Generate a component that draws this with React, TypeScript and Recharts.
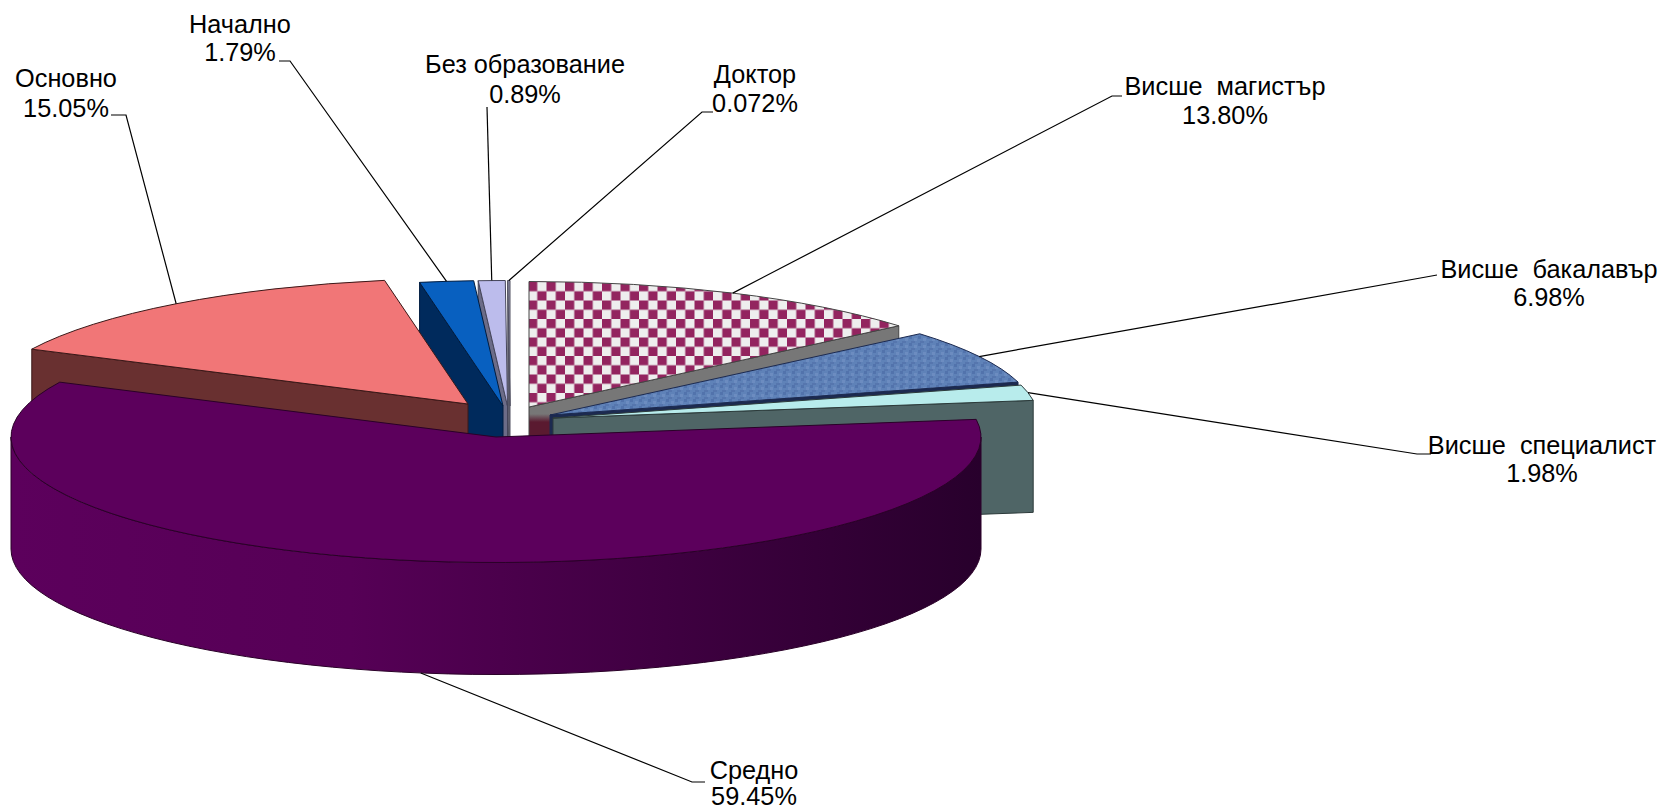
import { PieChart, Pie } from "recharts";

const categories = [
  "Основно",
  "Начално",
  "Без образование",
  "Доктор",
  "Висше  магистър",
  "Висше  бакалавър",
  "Висше  специалист",
  "Средно",
];
const shares = [15.05, 1.79, 0.89, 0.072, 13.8, 6.98, 1.98, 59.45];
const shareLabels = ["15.05%", "1.79%", "0.89%", "0.072%", "13.80%", "6.98%", "1.98%", "59.45%"];

const chartData = categories.map((name, i) => ({ name, value: shares[i], shareLabel: shareLabels[i] }));

// the pie is split at 12 o'clock so the slices can paint back to front:
// left part runs anticlockwise from the top, right part clockwise
const leftSlices = chartData.slice(0, 4).reverse();
const rightSlices = chartData.slice(4);
const sumOf = (rows: { value: number }[]) => rows.reduce((acc, r) => acc + r.value, 0);
const leftSpan = (sumOf(leftSlices) / sumOf(chartData)) * 360;

const RX = 485;
const RY = 125.5;
const DEPTH = 112;
const FONT = "'Liberation Sans', Arial, sans-serif";

// per slice look: explode offset from the pie centre, top fill, wall fill
const sliceStyle: Record<string, { dx: number; dy: number; top: string; wall: string; line: string }> = {
  "Основно": { dx: -28, dy: -33, top: "#f17677", wall: "#693030", line: "#3a1818" },
  "Начално": { dx: 7, dy: -31, top: "#0860c0", wall: "#002a5c", line: "#001c40" },
  "Без образование": { dx: 11.5, dy: -31, top: "#bcbcec", wall: "#6c6c88", line: "#45455a" },
  "Доктор": { dx: 14, dy: -31, top: "#9090a8", wall: "#606070", line: "#505060" },
  "Висше  магистър": { dx: 33, dy: -30, top: "url(#checks)", wall: "url(#greyWall)", line: "#444444" },
  "Висше  бакалавър": { dx: 54, dy: -22, top: "url(#weave)", wall: "#1c2a50", line: "#1c2a50" },
  "Висше  специалист": { dx: 57, dy: -19, top: "#b8ecec", wall: "#4f6566", line: "#2c3a3a" },
  "Средно": { dx: 0, dy: 0, top: "#5c005c", wall: "url(#mainWall)", line: "#2a0028" },
};

// label placement: centre x, baseline of both rows, leader elbow points
const labelLayout: Record<string, { x: number; y1: number; y2: number; elbow: number[][] }> = {
  "Основно": { x: 66, y1: 87, y2: 117, elbow: [[126, 115], [111, 115]] },
  "Начално": { x: 240, y1: 33, y2: 61, elbow: [[290, 61], [279, 61]] },
  "Без образование": { x: 525, y1: 73, y2: 103, elbow: [[487, 107]] },
  "Доктор": { x: 755, y1: 83, y2: 112, elbow: [[702, 112], [713, 112]] },
  "Висше  магистър": { x: 1225, y1: 95, y2: 124, elbow: [[1112, 96], [1122, 96]] },
  "Висше  бакалавър": { x: 1549, y1: 278, y2: 306, elbow: [[1426, 277], [1437, 275]] },
  "Висше  специалист": { x: 1542, y1: 454, y2: 482, elbow: [[1417, 454], [1431, 454]] },
  "Средно": { x: 754, y1: 779, y2: 805, elbow: [[692, 782], [705, 782]] },
};

const rad = (deg: number) => (deg * Math.PI) / 180;

function rimPoint(x0: number, y0: number, theta: number) {
  return { x: x0 + RX * Math.sin(rad(theta)), y: y0 - RY * Math.cos(rad(theta)) };
}

function Slice3D(props: any) {
  const { cx, cy, startAngle, endAngle, name } = props;
  const s = sliceStyle[name];
  const x0 = cx + s.dx;
  const y0 = cy + s.dy;
  const span = Math.abs(endAngle - startAngle);
  const from = ((90 - Math.max(startAngle, endAngle)) % 360 + 360) % 360;
  const to = from + span;
  const a = rimPoint(x0, y0, from);
  const b = rimPoint(x0, y0, to);

  const face = (p: { x: number; y: number }) =>
    `M${x0},${y0} L${p.x},${p.y} L${p.x},${p.y + DEPTH} L${x0},${y0 + DEPTH} Z`;

  const arcFrom = Math.max(from, 90);
  const arcTo = Math.min(to, 270);
  let rim = null;
  if (arcTo > arcFrom) {
    const p = rimPoint(x0, y0, arcFrom);
    const q = rimPoint(x0, y0, arcTo);
    const large = arcTo - arcFrom > 180 ? 1 : 0;
    rim = `M${p.x},${p.y} A${RX},${RY} 0 ${large} 1 ${q.x},${q.y} L${q.x},${q.y + DEPTH} A${RX},${RY} 0 ${large} 0 ${p.x},${p.y + DEPTH} Z`;
  }

  return (
    <g>
      {Math.sin(rad(from)) < 0 && <path d={face(a)} fill={s.wall} stroke={s.line} strokeWidth={1} />}
      {Math.sin(rad(to)) > 0 && <path d={face(b)} fill={s.wall} stroke={s.line} strokeWidth={1} />}
      {rim && <path d={rim} fill={s.wall} stroke={s.line} strokeWidth={1} />}
      <path
        d={`M${x0},${y0} L${a.x},${a.y} A${RX},${RY} 0 ${span > 180 ? 1 : 0} 1 ${b.x},${b.y} Z`}
        fill={s.top}
        stroke={s.line}
        strokeWidth={1}
      />
    </g>
  );
}

function SliceLabel(props: any) {
  const { cx, cy, midAngle, name, payload } = props;
  const s = sliceStyle[name];
  const l = labelLayout[name];
  const theta = 90 - midAngle;
  const rim = rimPoint(cx + s.dx, cy + s.dy, theta);
  const startY = Math.cos(rad(theta)) < 0 ? rim.y + DEPTH : rim.y;
  const pts = [[rim.x, startY], ...l.elbow].map((p) => p.join(",")).join(" ");
  const textStyle = { fontFamily: FONT, fontSize: 25.3, fill: "#000", whiteSpace: "pre" as const };
  return (
    <g>
      <polyline points={pts} fill="none" stroke="#000" strokeWidth={1.2} />
      <text x={l.x} y={l.y1} textAnchor="middle" style={textStyle}>{name}</text>
      <text x={l.x} y={l.y2} textAnchor="middle" style={textStyle}>{payload.shareLabel}</text>
    </g>
  );
}

export default function App() {
  return (
    <div style={{ width: 1665, height: 811, background: "#fff" }}>
      <style>{"body{margin:0}"}</style>
      <PieChart width={1665} height={811} margin={{ top: 0, right: 0, bottom: 0, left: 0 }}>
        <defs>
          <pattern id="checks" width={18.5} height={18.5} patternUnits="userSpaceOnUse" x={528} y={282}>
            <rect width={18.5} height={18.5} fill="#eeeeee" />
            <rect width={9.25} height={9.25} fill="#93245f" />
            <rect x={9.25} y={9.25} width={9.25} height={9.25} fill="#93245f" />
          </pattern>
          <pattern id="weave" width={9} height={7} patternUnits="userSpaceOnUse">
            <rect width={9} height={7} fill="#5f82b8" />
            <rect width={3} height={3} fill="#5273ac" />
            <rect x={5} y={2} width={3} height={3} fill="#6c8cc0" />
            <rect x={2} y={5} width={4} height={2} fill="#5676ae" />
          </pattern>
          <linearGradient id="mainWall" x1="0" y1="0" x2="1" y2="0">
            <stop offset="0%" stopColor="#5c005c" />
            <stop offset="35%" stopColor="#560056" />
            <stop offset="100%" stopColor="#28002c" />
          </linearGradient>
          <linearGradient id="greyWall" gradientUnits="userSpaceOnUse" x1="0" y1="414" x2="0" y2="422">
            <stop offset="0%" stopColor="#777777" />
            <stop offset="100%" stopColor="#5a1a30" />
          </linearGradient>
        </defs>
        <Pie
          data={leftSlices}
          dataKey="value"
          nameKey="name"
          cx={496}
          cy={437}
          innerRadius={0}
          outerRadius={RX}
          startAngle={90}
          endAngle={90 + leftSpan}
          stroke="none"
          isAnimationActive={false}
          shape={Slice3D}
          label={SliceLabel}
          labelLine={false}
        />
        <Pie
          data={rightSlices}
          dataKey="value"
          nameKey="name"
          cx={496}
          cy={437}
          innerRadius={0}
          outerRadius={RX}
          startAngle={90}
          endAngle={90 - (360 - leftSpan)}
          stroke="none"
          isAnimationActive={false}
          shape={Slice3D}
          label={SliceLabel}
          labelLine={false}
        />
      </PieChart>
    </div>
  );
}
